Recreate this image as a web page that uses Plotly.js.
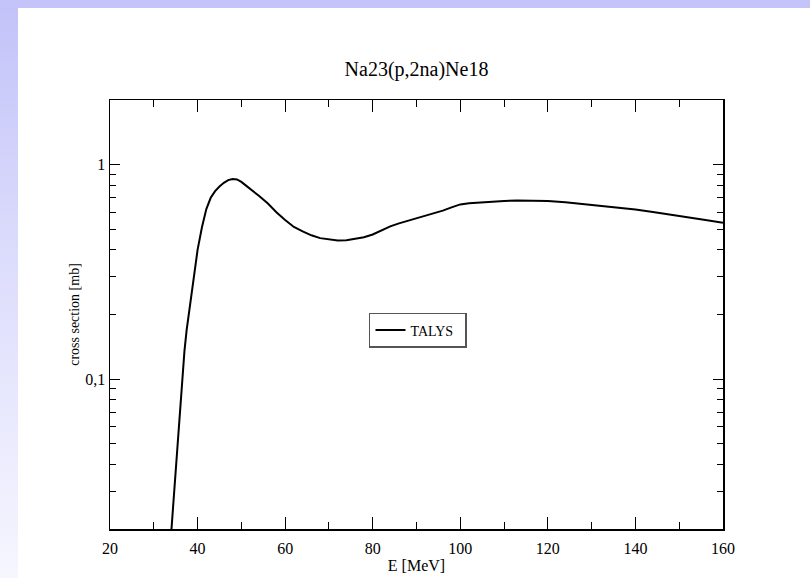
<!DOCTYPE html>
<html>
<head>
<meta charset="utf-8">
<script src="https://cdn.plot.ly/plotly-3.0.1.min.js"></script>
<style>
html, body { margin:0; padding:0; width:810px; height:578px; overflow:hidden; }
body { background: linear-gradient(to bottom, #c2c2f9 0%, #dadafc 40%, #f6f6ff 100%); }
#topbar { position:absolute; left:0; top:0; width:810px; height:8px; background:#c4c4fa; }
#plot { position:absolute; left:18px; top:8px; width:792px; height:570px; background:#fff; }
</style>
</head>
<body>
<div id="topbar"></div>
<div id="plot"></div>
<script>
const energy = [33.5, 34, 34.5, 35, 35.5, 36, 36.5, 37, 37.5, 38, 38.5, 39, 40, 41, 42, 43, 44, 45, 46, 47, 48, 49, 50, 51, 52, 54, 56, 58, 60, 62, 64, 66, 68, 70, 72, 74, 76, 78, 80, 82, 84, 86, 88, 90, 92, 94, 96, 98, 100, 102, 104, 106, 108, 110, 113, 116, 120, 124, 128, 132, 136, 140, 144, 148, 152, 156, 160];
const talys = [0.0141, 0.0197, 0.0272, 0.0385, 0.054, 0.075, 0.103, 0.135, 0.169, 0.203, 0.238, 0.290, 0.400, 0.510, 0.620, 0.700, 0.752, 0.790, 0.822, 0.846, 0.857, 0.852, 0.830, 0.800, 0.772, 0.715, 0.660, 0.600, 0.552, 0.512, 0.488, 0.468, 0.454, 0.447, 0.443, 0.444, 0.450, 0.458, 0.472, 0.492, 0.515, 0.532, 0.546, 0.561, 0.576, 0.592, 0.610, 0.632, 0.652, 0.660, 0.665, 0.669, 0.673, 0.677, 0.680, 0.679, 0.676, 0.668, 0.656, 0.645, 0.631, 0.617, 0.601, 0.585, 0.567, 0.552, 0.535];
const yTickVals = [0.1, 1];
const yTickText = ['0,1', '1'];
const yMinorVals = [0.02, 0.03, 0.04, 0.05, 0.06, 0.07, 0.08, 0.09, 0.2, 0.3, 0.4, 0.5, 0.6, 0.7, 0.8, 0.9];

const font = "'Liberation Serif', 'Times New Roman', serif";
Plotly.newPlot('plot', [{
  x: energy, y: talys, type: 'scatter', mode: 'lines', name: 'TALYS\u00a0\u00a0',
  line: { color: '#000', width: 2 }
}], {
  width: 792, height: 570,
  paper_bgcolor: '#fff', plot_bgcolor: '#fff',
  margin: { l: 92, r: 87, t: 92, b: 49 },
  font: { family: font, color: '#000', size: 15 },
  title: { text: 'Na23(p,2na)Ne18', font: { family: font, size: 20, color: '#000' }, x: 0.5, xref: 'paper', y: 0.893, yanchor: 'middle' },
  xaxis: {
    range: [20, 160], dtick: 20, tick0: 20,
    ticks: 'inside', ticklen: 12, tickwidth: 1, tickcolor: '#000',
    showline: true, linecolor: '#000', linewidth: 1.5, mirror: 'ticks',
    showgrid: false, zeroline: false,
    minor: { dtick: 10, ticks: 'inside', ticklen: 7, tickcolor: '#000', tickwidth: 1, showgrid: false },
    tickfont: { family: font, size: 16 },
    ticklabelstandoff: 4,
    title: { text: 'E [MeV]', font: { family: font, size: 16 }, standoff: 4 }
  },
  yaxis: {
    type: 'log', range: [Math.log10(0.02), Math.log10(2)],
    tickvals: yTickVals, ticktext: yTickText,
    ticks: 'inside', ticklen: 10, tickwidth: 1, tickcolor: '#000',
    showline: true, linecolor: '#000', linewidth: 1.5, mirror: 'ticks',
    showgrid: false, zeroline: false,
    minor: { tickvals: yMinorVals, ticks: 'inside', ticklen: 6, tickcolor: '#000', tickwidth: 1, showgrid: false },
    tickfont: { family: font, size: 16 },
    title: { text: 'cross section [mb]', font: { family: font, size: 14 }, standoff: 2 }
  },
  showlegend: true,
  legend: {
    x: 0.4225, y: 0.5035, xanchor: 'left', yanchor: 'top',
    bgcolor: '#fff', bordercolor: '#555', borderwidth: 1.5,
    font: { family: font, size: 14 }, tracegroupgap: 0, itemwidth: 30
  }
}, { displayModeBar: false, staticPlot: true });
</script>
</body>
</html>
